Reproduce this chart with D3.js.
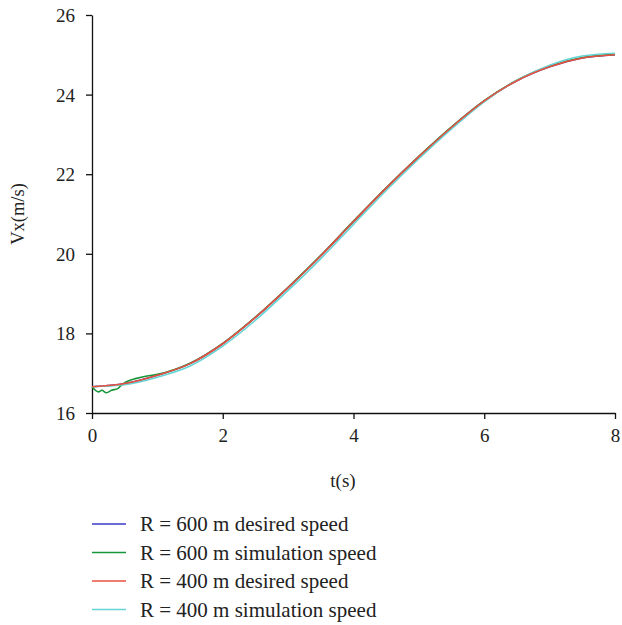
<!DOCTYPE html>
<html>
<head>
<meta charset="utf-8">
<script src="https://cdn.jsdelivr.net/npm/d3@7"></script>
<style>
  body { margin: 0; background: #fff; }
  text { font-family: "Liberation Serif", "DejaVu Serif", serif; fill: #222; }
</style>
</head>
<body>
<div id="chart"></div>
<script>
// time samples (s)
const times = [0, 0.5, 1, 1.5, 2, 2.5, 3, 3.5, 4, 4.5, 5, 5.5, 6, 6.5, 7, 7.5, 8];

// desired speeds (m/s)
const desired600 = [16.66, 16.74, 16.95, 17.24, 17.74, 18.40, 19.15, 19.95, 20.81, 21.65, 22.44, 23.18, 23.84, 24.35, 24.70, 24.92, 25.00];
const desired400 = [16.66, 16.74, 16.95, 17.24, 17.74, 18.40, 19.15, 19.95, 20.81, 21.65, 22.44, 23.18, 23.84, 24.35, 24.70, 24.92, 25.00];

// simulated speeds; R = 600 m has a small wobble at the start
const sim600Times = [0, 0.1, 0.15, 0.22, 0.3, 0.4, 0.45, 0.52, 0.68, 0.84, 1, 1.5, 2, 2.5, 3, 3.5, 4, 4.5, 5, 5.5, 6, 6.5, 7, 7.5, 8];
const sim600 = [16.66, 16.53, 16.57, 16.51, 16.57, 16.62, 16.70, 16.78, 16.87, 16.93, 16.97, 17.25, 17.75, 18.41, 19.16, 19.96, 20.82, 21.66, 22.45, 23.19, 23.85, 24.36, 24.71, 24.93, 25.01];
const sim400 = [16.66, 16.71, 16.90, 17.18, 17.68, 18.33, 19.08, 19.88, 20.74, 21.59, 22.39, 23.14, 23.82, 24.36, 24.74, 24.97, 25.04];

const xTicks = [0, 2, 4, 6, 8];
const yTicks = [16, 18, 20, 22, 24, 26];

const seriesNames = ["R = 600 m desired speed", "R = 600 m simulation speed", "R = 400 m desired speed", "R = 400 m simulation speed"];
const seriesColors = ["#3a3ac8", "#17963a", "#e8503f", "#66d4d4"];

const W = 622, H = 625;
const plot = { left: 92, right: 615, top: 15, bottom: 413 };

const svg = d3.select("#chart").append("svg")
    .attr("width", W)
    .attr("height", H);

const x = d3.scaleLinear().domain([0, 8]).range([plot.left, plot.right]);
const y = d3.scaleLinear().domain([16, 26]).range([plot.bottom, plot.top]);

// axes
const xAxis = svg.append("g")
    .attr("transform", `translate(0,${plot.bottom})`)
    .call(d3.axisBottom(x).tickValues(xTicks).tickSize(6).tickSizeOuter(0).tickPadding(10));
const yAxis = svg.append("g")
    .attr("transform", `translate(${plot.left},0)`)
    .call(d3.axisLeft(y).tickValues(yTicks).tickSize(6).tickSizeOuter(0).tickPadding(11));

[xAxis, yAxis].forEach(g => {
    g.select(".domain").attr("stroke", "#111").attr("stroke-width", 1.3);
    g.selectAll(".tick line").attr("stroke", "#111").attr("stroke-width", 1.3);
    g.selectAll(".tick text")
        .style("font-family", '"Liberation Serif", serif')
        .style("font-size", "19px")
        .attr("fill", "#222");
});
yAxis.selectAll(".tick text").attr("dy", "0.34em");

// axis titles
svg.append("text")
    .attr("x", 343)
    .attr("y", 487)
    .attr("text-anchor", "middle")
    .style("font-size", "19px")
    .text("t(s)");

svg.append("text")
    .attr("transform", "translate(24,214) rotate(-90)")
    .attr("text-anchor", "middle")
    .style("font-size", "18.5px")
    .text("Vx(m/s)");

// lines
const line = d3.line()
    .x(d => x(d[0]))
    .y(d => y(d[1]))
    .curve(d3.curveMonotoneX);

const seriesData = [
    times.map((t, i) => [t, desired600[i]]),
    sim600Times.map((t, i) => [t, sim600[i]]),
    times.map((t, i) => [t, desired400[i]]),
    times.map((t, i) => [t, sim400[i]])
];

// blue and green underneath, then cyan, red on top
const drawOrder = [0, 1, 3, 2];
drawOrder.forEach(k => {
    svg.append("path")
        .datum(seriesData[k])
        .attr("fill", "none")
        .attr("stroke", seriesColors[k])
        .attr("stroke-width", 1.6)
        .attr("d", line);
});

// legend
const legend = svg.append("g");
seriesNames.forEach((name, i) => {
    const ly = 524 + i * 28.5;
    legend.append("line")
        .attr("x1", 92).attr("x2", 126)
        .attr("y1", ly).attr("y2", ly)
        .attr("stroke", seriesColors[i])
        .attr("stroke-width", 1.6);
    legend.append("text")
        .attr("x", 140)
        .attr("y", ly)
        .attr("dy", "0.34em")
        .style("font-size", "21px")
        .text(name);
});
</script>
</body>
</html>
